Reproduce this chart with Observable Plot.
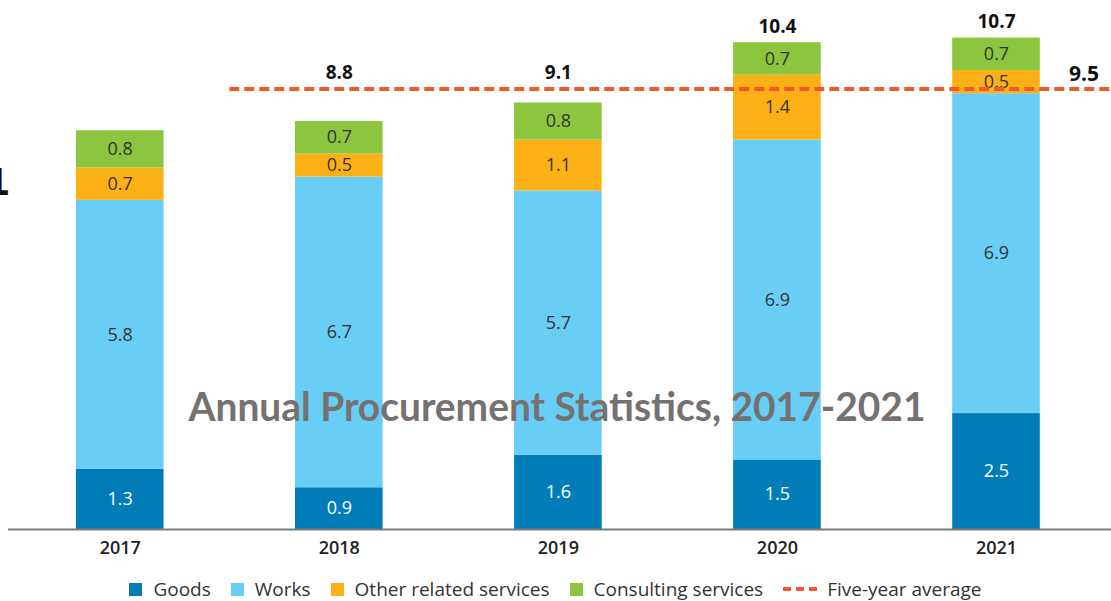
<!DOCTYPE html>
<html><head><meta charset="utf-8">
<script src="https://cdn.jsdelivr.net/npm/d3@7"></script>
<script src="https://cdn.jsdelivr.net/npm/@observablehq/plot@0.6"></script>
<style>
body{margin:0;background:#fff;font-family:"Open Sans",sans-serif;}
#wrap{position:relative;width:1111px;height:601px;overflow:hidden}
#legend{position:absolute;left:0;top:575px;width:1111px;height:28px;display:flex;justify-content:center;align-items:center;font-size:19px;color:#333;font-family:"Open Sans",sans-serif;}
.item{display:flex;align-items:center;margin:0 10px;}
.sw{width:13px;height:13px;margin-right:11px;display:inline-block}
.dash{width:34px;height:0;border-top:4px dashed #EF5A2A;margin-right:10px;display:inline-block}
#stray{position:absolute;left:-16px;top:160px;font-family:"DejaVu Sans";font-weight:bold;font-size:38px;color:#111;}
</style></head><body><div id="wrap"><div id="chart"></div><div id="legend"></div><span id="stray">1</span></div>
<script>
const years = [2017, 2018, 2019, 2020, 2021];
const goods = [1.3, 0.9, 1.6, 1.5, 2.5];
const works = [5.8, 6.7, 5.7, 6.9, 6.9];
const otherServices = [0.7, 0.5, 1.1, 1.4, 0.5];
const consulting = [0.8, 0.7, 0.8, 0.7, 0.7];
const totalLabels = [null, 8.8, 9.1, 10.4, 10.7];
const fiveYearAverage = 9.5;
const categories = ["Goods", "Works", "Other related services", "Consulting services"];
const colors = ["#007DB8", "#68CEF5", "#FBB116", "#8CC63F"];
const title = "Annual Procurement Statistics, 2017-2021";

const series = [goods, works, otherServices, consulting];
const rows = years.flatMap((y, i) => categories.map((c, j) => ({year: y, category: c, value: series[j][i]})));
const sums = years.map((y, i) => series.reduce((s, a) => s + a[i], 0));
const totalRows = years.map((y, i) => ({year: y, total: totalLabels[i], top: Math.max(sums[i], fiveYearAverage)})).filter(d => d.total != null);

const half = 0.2;
const xMin = 2016.49, xMax = 2021.525;
const plot = Plot.plot({
  width: 1111, height: 570,
  marginLeft: 8, marginRight: 0, marginTop: 19, marginBottom: 41,
  x: {type: "linear", domain: [xMin, xMax], axis: null},
  y: {domain: [0, 11], axis: null},
  color: {domain: categories, range: colors},
  style: {fontFamily: "Open Sans, sans-serif", background: "white"},
  marks: [
    Plot.rectY(rows, {x1: d => d.year - half, x2: d => d.year + half, y: "value", fill: "category"}),
    Plot.text(rows, Plot.stackY({x: "year", y: "value", z: "category",
      text: d => d.value.toFixed(1), fontSize: 18,
      fill: d => d.category === "Goods" ? "white" : "#333"})),
    Plot.ruleY([0], {stroke: "#7a7a7a", strokeWidth: 2}),
    Plot.ruleY([fiveYearAverage], {x1: (years[0] + years[1]) / 2, x2: xMax, stroke: "#EF5A2A", strokeWidth: 4, strokeDasharray: "10,5"}),
    Plot.text(totalRows, {x: "year", y: "top", dy: -16, text: d => d.total.toFixed(1), fontSize: 19, fontWeight: "bold", fill: "#111"}),
    Plot.text([fiveYearAverage], {x: years[years.length - 1] + 2 * half, y: d => d, dy: -15, text: d => d.toFixed(1), fontSize: 21, fontWeight: "bold", fill: "#111"}),
    Plot.text(years, {x: d => d, frameAnchor: "bottom", dy: 24, text: d => String(d), fontSize: 18, fontWeight: 600, fill: "#222"})
  ]
});
d3.select(plot).append("text")
  .attr("x", 557).attr("y", 421)
  .attr("text-anchor", "middle")
  .attr("font-family", "Lato, sans-serif").attr("font-weight", "bold").attr("font-size", 40)
  .attr("fill", "#767171")
  .attr("textLength", 737).attr("lengthAdjust", "spacingAndGlyphs")
  .text(title);
document.getElementById("chart").appendChild(plot);

const legend = document.getElementById("legend");
categories.forEach((c, i) => {
  const it = document.createElement("div"); it.className = "item";
  const sw = document.createElement("span"); sw.className = "sw"; sw.style.background = colors[i];
  it.appendChild(sw); it.appendChild(document.createTextNode(c)); legend.appendChild(it);
});
const it = document.createElement("div"); it.className = "item";
const ds = document.createElement("span"); ds.className = "dash";
it.appendChild(ds); it.appendChild(document.createTextNode("Five-year average")); legend.appendChild(it);
</script></body></html>
